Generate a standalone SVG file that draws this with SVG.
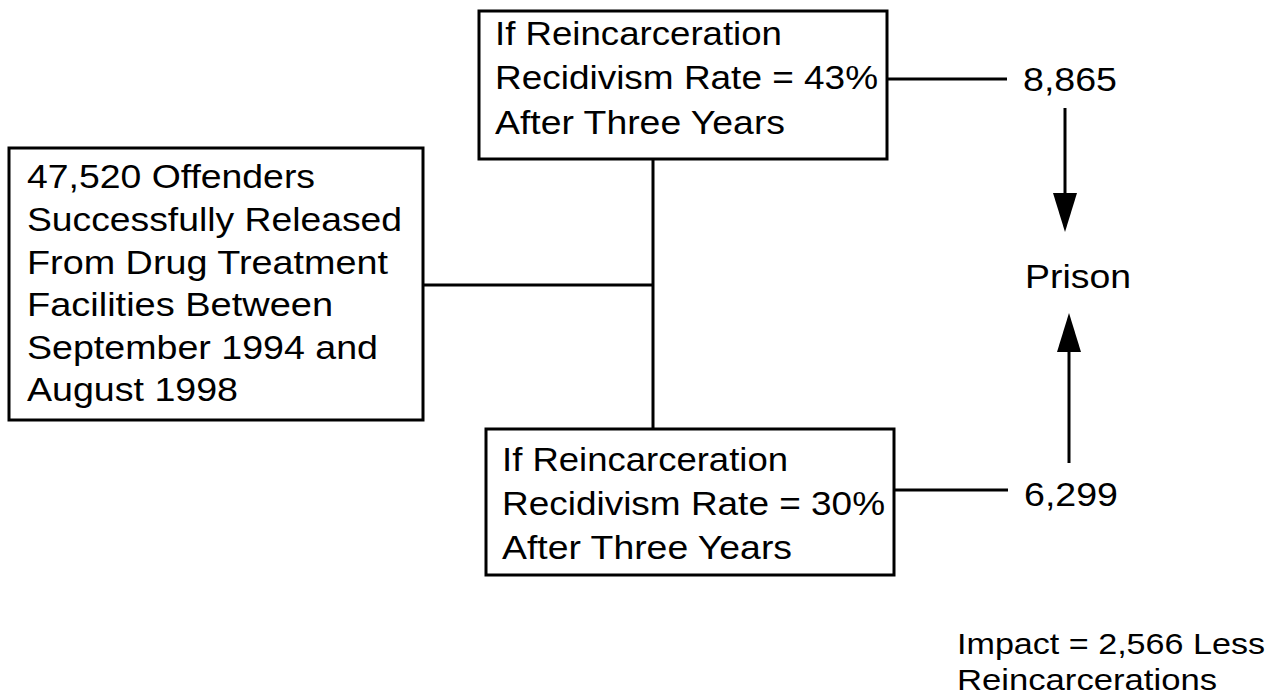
<svg xmlns="http://www.w3.org/2000/svg" width="1278" height="697" viewBox="0 0 1278 697">
<defs>
<style>
.box{fill:#fff;stroke:#000;stroke-width:3}
.ln{stroke:#000;stroke-width:3;fill:none}
.t{font-family:"Liberation Sans",Arial,sans-serif;font-size:34px;fill:#000}
.s{font-size:30px}
</style>
</defs>
<rect width="1278" height="697" fill="#fff"/>
<g id="connectors">
<line class="ln" x1="653" y1="159" x2="653" y2="429"/>
<line class="ln" x1="423" y1="285" x2="653" y2="285"/>
<line class="ln" x1="887" y1="79" x2="1007" y2="79"/>
<line class="ln" x1="894" y1="490" x2="1008" y2="490"/>
<line class="ln" x1="1065" y1="108" x2="1065" y2="200"/>
<path d="M1053,193 L1077,193 L1065,232 Z" fill="#000"/>
<line class="ln" x1="1069" y1="463" x2="1069" y2="345"/>
<path d="M1057,352 L1081,352 L1069,313 Z" fill="#000"/>
</g>
<g id="top-box">
<rect class="box" x="479" y="11" width="408" height="148"/>
<text class="t" x="495" y="45" textLength="287" lengthAdjust="spacingAndGlyphs">If Reincarceration</text>
<text class="t" x="495" y="89" textLength="383" lengthAdjust="spacingAndGlyphs">Recidivism Rate = 43%</text>
<text class="t" x="495" y="134" textLength="290" lengthAdjust="spacingAndGlyphs">After Three Years</text>
</g>
<g id="left-box">
<rect class="box" x="9" y="148" width="414" height="272"/>
<text class="t" x="27" y="188" textLength="288" lengthAdjust="spacingAndGlyphs">47,520 Offenders</text>
<text class="t" x="27" y="231" textLength="375" lengthAdjust="spacingAndGlyphs">Successfully Released</text>
<text class="t" x="27" y="274" textLength="361" lengthAdjust="spacingAndGlyphs">From Drug Treatment</text>
<text class="t" x="27" y="316" textLength="306" lengthAdjust="spacingAndGlyphs">Facilities Between</text>
<text class="t" x="27" y="359" textLength="351" lengthAdjust="spacingAndGlyphs">September 1994 and</text>
<text class="t" x="27" y="401" textLength="211" lengthAdjust="spacingAndGlyphs">August 1998</text>
</g>
<g id="bottom-box">
<rect class="box" x="486" y="429" width="408" height="146"/>
<text class="t" x="502" y="471" textLength="286" lengthAdjust="spacingAndGlyphs">If Reincarceration</text>
<text class="t" x="502" y="515" textLength="383" lengthAdjust="spacingAndGlyphs">Recidivism Rate = 30%</text>
<text class="t" x="502" y="559" textLength="290" lengthAdjust="spacingAndGlyphs">After Three Years</text>
</g>
<g id="n8865">
<text class="t" x="1023" y="91" textLength="94" lengthAdjust="spacingAndGlyphs">8,865</text>
</g>
<g id="prison">
<text class="t" x="1025" y="288" textLength="106" lengthAdjust="spacingAndGlyphs">Prison</text>
</g>
<g id="n6299">
<text class="t" x="1024" y="506" textLength="94" lengthAdjust="spacingAndGlyphs">6,299</text>
</g>
<g id="impact">
<text class="t s" x="957" y="654" textLength="308" lengthAdjust="spacingAndGlyphs">Impact = 2,566 Less</text>
<text class="t s" x="957" y="690" textLength="260" lengthAdjust="spacingAndGlyphs">Reincarcerations</text>
</g>
</svg>
